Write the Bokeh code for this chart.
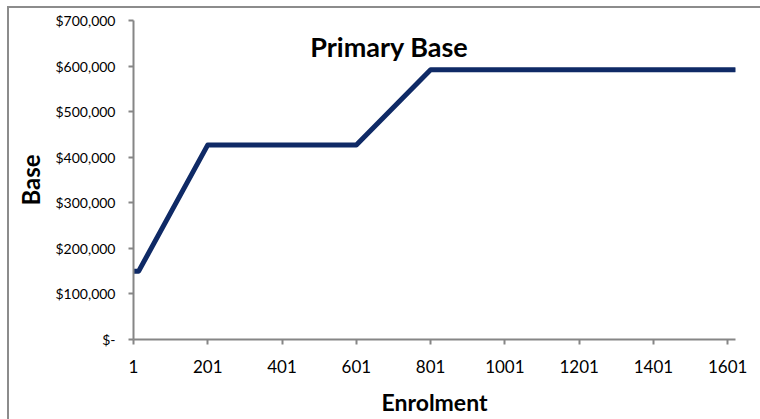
from bokeh.plotting import figure
from bokeh.models import FixedTicker, Label, Range1d, InlineStyleSheet
from bokeh.embed import file_html
from bokeh.resources import INLINE

# Primary base funding by enrolment (breakpoints of the piecewise line)
enrolment = [1, 15, 201, 601, 801, 1620]
base = [150000, 150000, 427000, 427000, 592000, 592000]

x_ticks = [1, 201, 401, 601, 801, 1001, 1201, 1401, 1601]
y_ticks = [0, 100000, 200000, 300000, 400000, 500000, 600000, 700000]
y_tick_labels = ["$-", "$100,000", "$200,000", "$300,000", "$400,000",
                 "$500,000", "$600,000", "$700,000"]

FONT = "Lato"
AXIS_GREY = "#868686"

# Grey chart-area border drawn around the whole figure
chart_border = InlineStyleSheet(css="""
:host::after {
  content: "";
  position: absolute;
  left: 7px;
  top: 6px;
  width: 900px;
  height: 600px;
  border: 2px solid #8c8c8c;
  box-sizing: border-box;
  pointer-events: none;
}
""")

p = figure(width=760, height=419, output_backend="svg", toolbar_location=None,
           x_range=Range1d(1, 1622), y_range=Range1d(0, 700000),
           min_border_left=133, min_border_right=25,
           min_border_top=20, min_border_bottom=80,
           stylesheets=[chart_border])
p.outline_line_color = None
p.xgrid.visible = False
p.ygrid.visible = False
p.background_fill_color = "white"
p.border_fill_color = "white"

p.line(enrolment, base, line_color="#0F2A66", line_width=5,
       line_cap="round", line_join="round")

# Axes
for ax in (p.xaxis[0], p.yaxis[0]):
    ax.axis_line_color = AXIS_GREY
    ax.axis_line_width = 2
    ax.major_tick_line_color = AXIS_GREY
    ax.major_tick_line_width = 2
    ax.major_tick_in = 0
    ax.major_tick_out = 5
    ax.minor_tick_line_color = None
    ax.major_label_text_font = FONT
    ax.major_label_text_color = "black"
    ax.axis_label_text_font = FONT
    ax.axis_label_text_font_style = "bold"
    ax.axis_label_text_color = "black"

p.xaxis.ticker = FixedTicker(ticks=x_ticks)
p.xaxis.major_label_text_font_size = "17px"
p.xaxis.major_label_standoff = 15
p.xaxis.axis_label = "Enrolment"
p.xaxis.axis_label_text_font_size = "23px"
p.xaxis.axis_label_standoff = 12

p.yaxis.ticker = FixedTicker(ticks=y_ticks)
p.yaxis.major_label_overrides = dict(zip(y_ticks, y_tick_labels))
p.yaxis.major_label_text_font_size = "14px"
p.yaxis.major_label_standoff = 13
p.yaxis.axis_label = "Base"
p.yaxis.axis_label_text_font_size = "24px"
p.yaxis.axis_label_standoff = 7

# Chart title sitting inside the plot area
p.add_layout(Label(x=690, y=643000, text="Primary Base", text_font=FONT,
                   text_font_size="27px", text_font_style="bold",
                   text_color="black", text_align="center",
                   text_baseline="middle"))

open("out.html", "w").write(file_html(p, INLINE))
